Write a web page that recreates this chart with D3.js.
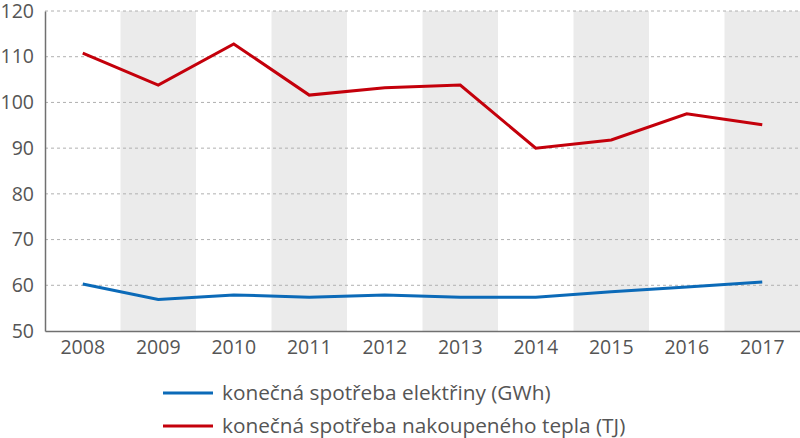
<!DOCTYPE html>
<html><head><meta charset="utf-8">
<script src="https://cdn.jsdelivr.net/npm/d3@7"></script>
<style>body{margin:0;background:#fff}svg{display:block;font-family:"Open Sans",sans-serif}</style>
</head><body><svg id="c" width="800" height="438"></svg>
<script>
const years = ["2008","2009","2010","2011","2012","2013","2014","2015","2016","2017"];
const elektrina = [60.3, 56.9, 57.9, 57.4, 57.9, 57.4, 57.4, 58.6, 59.6, 60.7];
const teplo = [110.8, 103.8, 112.8, 101.6, 103.2, 103.8, 90.0, 91.8, 97.5, 95.1];
const yTicks = [50, 60, 70, 80, 90, 100, 110, 120];
const seriesNames = ["konečná spotřeba elektřiny (GWh)", "konečná spotřeba nakoupeného tepla (TJ)"];
const colors = ["#0b6ab8", "#c4000b"];

const svg = d3.select("#c");
const L = 45, R = 800, T = 11, B = 331;
const x = d3.scaleBand().domain(years).range([L, R]).padding(0);
const y = d3.scaleLinear().domain([50, 120]).range([B, T]);

// alternating bands
svg.append("g").selectAll("rect").data(years.filter((d,i)=>i%2===1)).join("rect")
  .attr("x", d=>x(d)).attr("y", T).attr("width", x.bandwidth()).attr("height", B-T)
  .attr("fill", "#ebebeb");

// gridlines
svg.append("g").selectAll("line").data(yTicks.filter(d=>d>50)).join("line")
  .attr("x1", L).attr("x2", R).attr("y1", d=>y(d)).attr("y2", d=>y(d))
  .attr("stroke", "#b0b0b0").attr("stroke-width", 1).attr("stroke-dasharray", "3,3");

// axes
const yAxis = svg.append("g").attr("transform", `translate(${L},0)`)
  .call(d3.axisLeft(y).tickValues(yTicks).tickSize(0).tickPadding(11));
yAxis.select(".domain").attr("stroke", "#707070").attr("stroke-width", 1.5);
yAxis.selectAll("text").attr("font-size", 19.5).attr("fill", "#555").attr("font-family", "Open Sans");

const xAxis = svg.append("g").attr("transform", `translate(0,${B})`)
  .call(d3.axisBottom(x).tickSize(0).tickPadding(9));
xAxis.select(".domain").attr("stroke", "#707070").attr("stroke-width", 1.5);
xAxis.selectAll("text").attr("font-size", 19.5).attr("fill", "#555").attr("font-family", "Open Sans");

// lines
const line = d3.line().x((d,i)=>x(years[i]) + x.bandwidth()/2).y(d=>y(d));
[elektrina, teplo].forEach((s,k)=>{
  svg.append("path").datum(s).attr("d", line).attr("fill","none")
    .attr("stroke", colors[k]).attr("stroke-width", 3).attr("stroke-linejoin","miter");
});

// legend
const lg = svg.append("g");
seriesNames.forEach((n,k)=>{
  const yy = 393 + k*33;
  lg.append("line").attr("x1",163).attr("x2",213).attr("y1",yy).attr("y2",yy)
    .attr("stroke", colors[k]).attr("stroke-width", 3);
  lg.append("text").attr("x",222).attr("y",yy).attr("dy","0.35em")
    .attr("font-size", 20.8).attr("fill","#555").text(n);
});
</script></body></html>
